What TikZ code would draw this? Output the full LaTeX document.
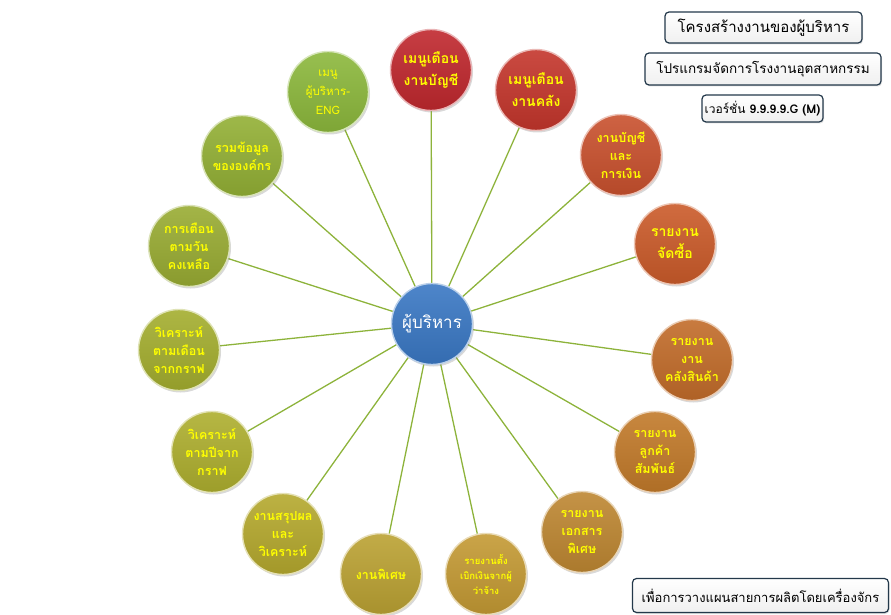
\documentclass[tikz,border=0pt]{standalone}
\usepackage{fontspec}
\newfontfamily\thai[Script=Thai]{Loma}
\usetikzlibrary{shadows,backgrounds}
\definecolor{linegreen}{HTML}{8DB33B}
\definecolor{boxline}{HTML}{23384A}
\definecolor{cc}{HTML}{3A78C4}
\definecolor{ca}{HTML}{C0282E}
\definecolor{cb}{HTML}{C4362C}
\definecolor{cd}{HTML}{C9512E}
\definecolor{ce}{HTML}{CB5B2A}
\definecolor{cf}{HTML}{C26C2A}
\definecolor{cg}{HTML}{C27A2A}
\definecolor{ch}{HTML}{BE8732}
\definecolor{ci}{HTML}{C49A34}
\definecolor{cj}{HTML}{BBA233}
\definecolor{ck}{HTML}{B5A92E}
\definecolor{cl}{HTML}{AEAF2F}
\definecolor{cm}{HTML}{A4AE2F}
\definecolor{cn}{HTML}{99AC33}
\definecolor{co}{HTML}{93B035}
\definecolor{cp}{HTML}{8CB83C}
\definecolor{ttext}{HTML}{FFFF00}
\tikzset{
  bub/.style={circle, minimum size=81pt, inner sep=0pt, align=center,
    top color=#1!90!white, bottom color=#1!90!black,
    draw=#1!35!white, line width=1.4pt,
    drop shadow={shadow xshift=1.5pt, shadow yshift=-2pt, opacity=0.3},
    text=ttext, font=\thai\bfseries\fontsize{12.5}{18}\selectfont},
  big/.style={font=\thai\bfseries\fontsize{14}{22}\selectfont},
  spoke/.style={draw=linegreen, line width=1.3pt},
  infobox/.style={draw=boxline, line width=1.2pt, rounded corners=4pt,
    top color=white, bottom color=black!6, inner sep=2pt,
    drop shadow={shadow xshift=1pt, shadow yshift=-1.5pt, opacity=0.25},
    text=black, font=\thai\fontsize{14}{16}\selectfont}
}
\begin{document}
\begin{tikzpicture}[x=1pt,y=-1pt]
\useasboundingbox (0,0) rectangle (891,615);
\node[bub=cc, text=white, font=\thai\fontsize{17}{20}\selectfont] (c) at (432,324) {ผู้บริหาร};
\node[bub=ca, big] (s1) at (431,70) {เมนูเตือน\\งานบัญชี};
\node[bub=cb, big] (s2) at (536,90) {เมนูเตือน\\งานคลัง};
\node[bub=cd] (s3) at (621,155) {งานบัญชี\\และ\\การเงิน};
\node[bub=ce, big] (s4) at (675,244) {รายงาน\\จัดซื้อ};
\node[bub=cf] (s5) at (692,360) {รายงาน\\งาน\\คลังสินค้า};
\node[bub=cg] (s6) at (655,452) {รายงาน\\ลูกค้า\\สัมพันธ์};
\node[bub=ch] (s7) at (582,532) {รายงาน\\เอกสาร\\พิเศษ};
\node[bub=ci, font=\thai\bfseries\fontsize{9.5}{15}\selectfont] (s8) at (486,574) {รายงานตั้ง\\เบิกเงินจากผู้\\ว่าจ้าง};
\node[bub=cj] (s9) at (381,574) {งานพิเศษ};
\node[bub=ck] (s10) at (283,534) {งานสรุปผล\\และ\\วิเคราะห์};
\node[bub=cl] (s11) at (212,452) {วิเคราะห์\\ตามปีจาก\\กราฟ};
\node[bub=cm] (s12) at (179,350) {วิเคราะห์\\ตามเดือน\\จากกราฟ};
\node[bub=cn] (s13) at (189,246) {การเตือน\\ตามวัน\\คงเหลือ};
\node[bub=co] (s14) at (242,156) {รวมข้อมูล\\ขององค์กร};
\node[bub=cp, font=\thai\fontsize{11.5}{19}\selectfont] (s15) at (328,92) {เมนู\\ผู้บริหาร-\\ENG};
\begin{scope}[on background layer]
\foreach \s in {s1,s2,s3,s4,s5,s6,s7,s8,s9,s10,s11,s12,s13,s14,s15}
  \draw[spoke] (c) -- (\s);
\end{scope}
\node[infobox, minimum width=197pt, minimum height=31pt, font=\thai\fontsize{15}{17}\selectfont] (t1) at (763.5,27.5) {โครงสร้างงานของผู้บริหาร};
\node[infobox, minimum width=236pt, minimum height=32pt, font=\thai\fontsize{13.5}{16}\selectfont] (t2) at (763,69) {โปรแกรมจัดการโรงงานอุตสาหกรรม};
\node[infobox, minimum width=121pt, minimum height=27pt, font=\thai\fontsize{12}{14}\selectfont] (t3) at (762.5,108.5) {เวอร์ชั่น \textbf{9.9.9.9.G (M)}};
\node[infobox, minimum width=256pt, minimum height=34pt, font=\thai\fontsize{13}{15}\selectfont] (t4) at (760.5,595.5) {เพื่อการวางแผนสายการผลิตโดยเครื่องจักร};
\end{tikzpicture}
\end{document}
